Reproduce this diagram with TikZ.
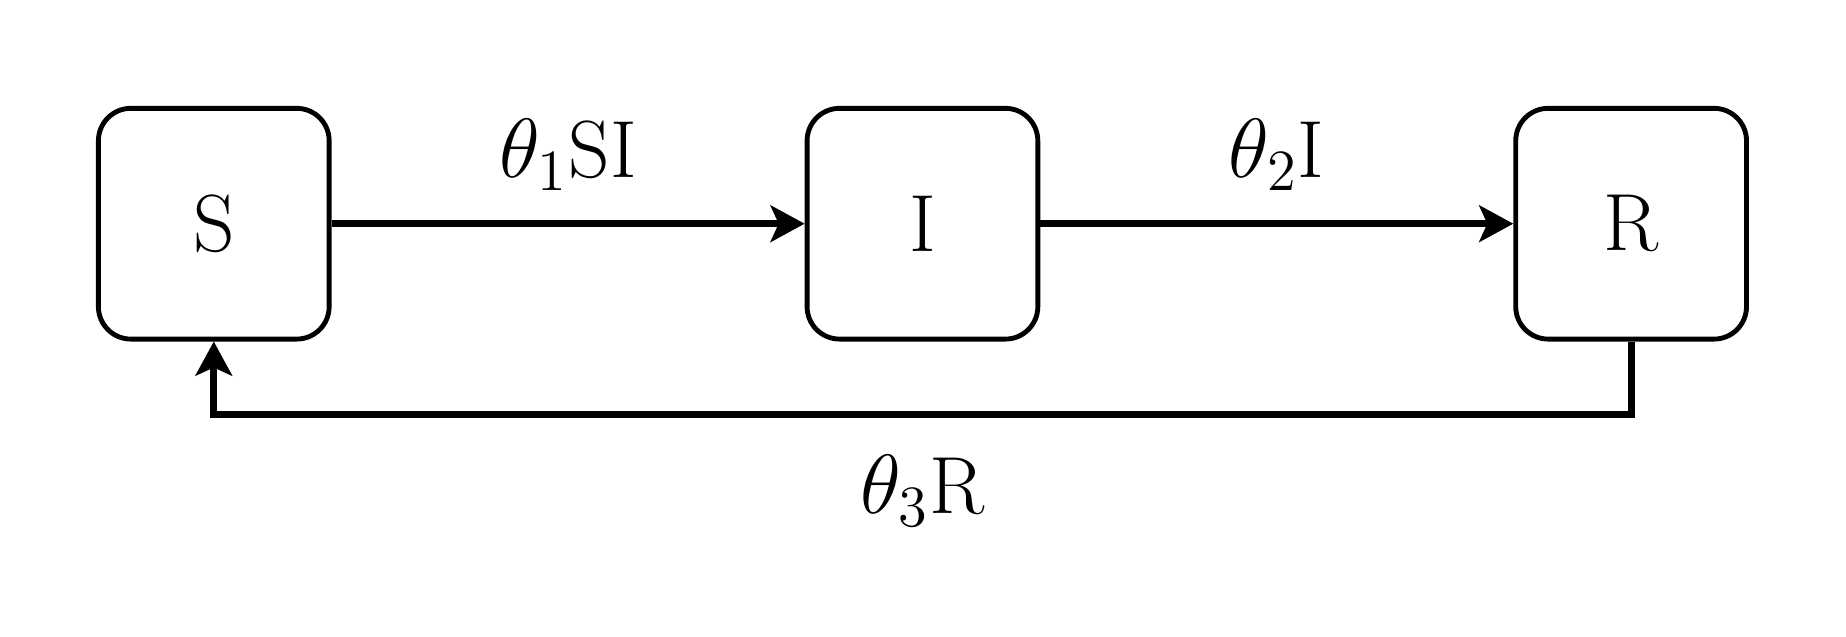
\documentclass[tikz,border=0pt]{standalone}
\usetikzlibrary{
   arrows.meta,
   positioning
}

\begin{document}
\begin{tikzpicture}[
  every node/.style={font=\fontsize{20}{24}\selectfont},
  compartment/.style={draw, very thick, rounded corners=8pt, minimum size=2cm, inner sep=0pt},
  flow/.style={-{Stealth[length=8.4pt,width=9pt,inset=2pt]}, line width=1.7pt},
]

% frame
\useasboundingbox (-1.853,-3.576) rectangle (14.147,1.939);

% compartments
\node[compartment] (S) at (0,0) {S};
\node[compartment, right=4.1cm of S] (I) {I};
\node[compartment, right=4.1cm of I] (R) {R};

% infection and recovery
\draw[flow] (S) -- node[above=4pt] (rateSI) {$\theta_1$SI} (I);
\draw[flow] (I) -- node[above=4pt] (rateI) {$\theta_2$I} (R);

% loss of immunity
\draw[flow] (R.south) -- ++(0,-0.63) -| node[pos=0.25, below=6pt] (rateR) {$\theta_3$R} (S.south);

\end{tikzpicture}
\end{document}
